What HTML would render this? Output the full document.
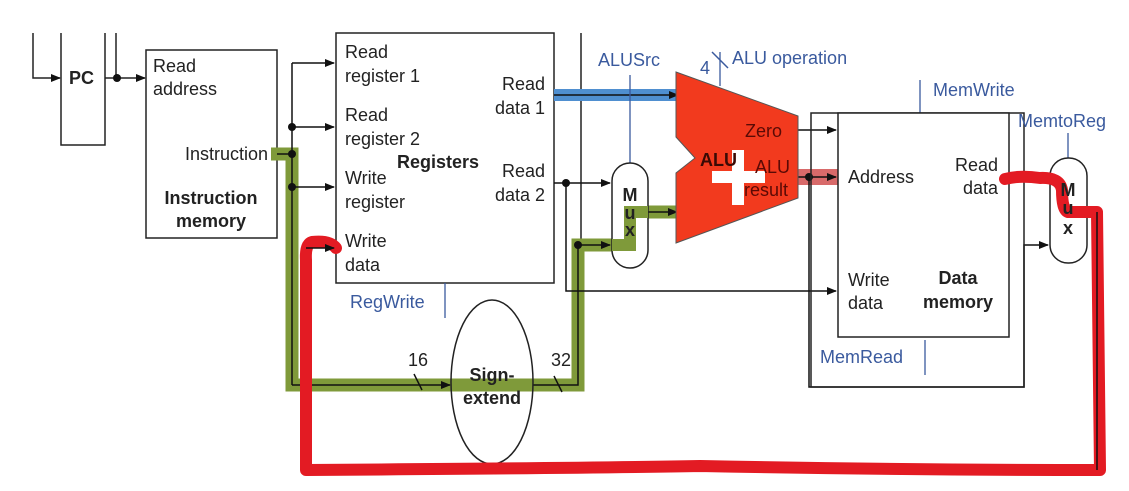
<!DOCTYPE html>
<html><head><meta charset="utf-8"><style>
html,body{margin:0;padding:0;background:#fff;}
svg{display:block;}
text{font-family:"Liberation Sans",sans-serif;font-size:18px;fill:#222;}
.b{font-weight:bold;}
.bl{fill:#3a5a9e;}
</style></head><body>
<svg width="1129" height="491" viewBox="0 0 1129 491" xmlns="http://www.w3.org/2000/svg">
<defs>
<marker id="a" markerWidth="10" markerHeight="8" refX="9" refY="4" orient="auto" markerUnits="userSpaceOnUse">
<path d="M0,0 L10,4 L0,8 Z" fill="#111"/></marker>
</defs>
<g fill="none" stroke="#222" stroke-width="1.5">
<path d="M61,33 V145 H105 V33"/>
<path d="M33,33 V78 H60" marker-end="url(#a)"/>
<path d="M116,33 V78"/>
<path d="M105,78 H145" marker-end="url(#a)"/>
<rect x="146" y="50" width="131" height="188"/>
<rect x="336" y="33" width="218" height="250"/>
<line x1="581" y1="33" x2="581" y2="245"/>
</g>
<g fill="none" stroke="#7f9a3a" stroke-width="13" stroke-linejoin="miter">
<path d="M271,154 H292 V385 H578 V245 H612"/>
<path d="M648,212 H678"/>
</g>
<rect x="554" y="89" width="126" height="12" fill="#4f8fd0"/>
<rect x="795" y="169" width="43" height="16" fill="#d86a6a"/>
<g fill="none" stroke="#111" stroke-width="1.5">
<path d="M292,63 V385"/>
<path d="M292,63 H334" marker-end="url(#a)"/>
<path d="M292,127 H334" marker-end="url(#a)"/>
<path d="M292,187 H334" marker-end="url(#a)"/>
<path d="M277,154 H292"/>
<path d="M292,385 H450" marker-end="url(#a)"/>
<path d="M533,385 H578 V245 H610" marker-end="url(#a)"/>
<path d="M554,95 H678" marker-end="url(#a)"/>
<path d="M554,183 H610" marker-end="url(#a)"/>
<path d="M566,183 V291 H836" marker-end="url(#a)"/>
<path d="M648,212 H677" marker-end="url(#a)"/>
<path d="M798,130 H836" marker-end="url(#a)"/>
<path d="M798,177 H836" marker-end="url(#a)"/>
<path d="M809,177 V387 H1024 V245 H1048" marker-end="url(#a)"/>
<path d="M1000,178 H1048" marker-end="url(#a)"/>
<path d="M1087,212 H1097"/>
<path d="M422,390 L414,374"/><path d="M562,392 L554,376"/>
<path d="M712,52 L728,68" stroke="#3a5a9e"/>
</g>
<g fill="#111">
<circle cx="117" cy="78" r="4"/><circle cx="292" cy="127" r="4"/><circle cx="292" cy="154" r="4"/><circle cx="292" cy="187" r="4"/>
<circle cx="566" cy="183" r="4"/><circle cx="578" cy="245" r="4"/><circle cx="809" cy="177" r="4"/>
</g>
<g stroke="#3a5a9e" stroke-width="1.3">
<line x1="630" y1="75" x2="630" y2="163"/>
<line x1="720" y1="52" x2="720" y2="86"/>
<line x1="920" y1="80" x2="920" y2="113"/>
<line x1="1068" y1="133" x2="1068" y2="158"/>
<line x1="445" y1="283" x2="445" y2="318"/>
<line x1="925" y1="340" x2="925" y2="375"/>
</g>
<rect x="612" y="163" width="36" height="105" rx="18" fill="#fff" stroke="#222" stroke-width="1.5"/>
<rect x="1050" y="158" width="37" height="105" rx="18" fill="#fff" stroke="#222" stroke-width="1.5"/>
<path d="M612,245 H630 V212 H648" fill="none" stroke="#7f9a3a" stroke-width="12"/>
<polygon points="676,72 798,116 798,198 676,243 676,173 695,158 676,137" fill="#f23a1e" stroke="#555" stroke-width="1"/>
<rect x="712" y="171" width="53" height="12" fill="#fff"/>
<rect x="732" y="150" width="12" height="55" fill="#fff"/>
<rect x="811" y="113" width="213" height="274" fill="none" stroke="#222" stroke-width="1.5"/>
<rect x="838" y="113" width="171" height="224" fill="#fff" stroke="#222" stroke-width="1.5"/>
<ellipse cx="492" cy="382" rx="41" ry="82" fill="none" stroke="#222" stroke-width="1.5"/>
<path d="M336,248 Q330,240 312,242 Q305,244 306,260 L306,470 Q600,468 700,466 Q900,470 1100,470 L1097,212 L1068,212 Q1062,210 1062,190 Q1060,177 1040,178 Q1020,175 1005,179" fill="none" stroke="#e31b23" stroke-width="12" stroke-linejoin="round" stroke-linecap="round"/>
<path d="M306,248 H334" fill="none" stroke="#111" stroke-width="1.5" marker-end="url(#a)"/>
<path d="M1097,212 V470" stroke="#111" stroke-width="1.5"/>
<text x="69" y="84" class="b">PC</text>
<text x="153" y="72">Read</text><text x="153" y="95">address</text>
<text x="268" y="160" text-anchor="end">Instruction</text>
<text x="211" y="204" class="b" text-anchor="middle">Instruction</text>
<text x="211" y="227" class="b" text-anchor="middle">memory</text>
<text x="345" y="58">Read</text><text x="345" y="82">register 1</text>
<text x="345" y="121">Read</text><text x="345" y="145">register 2</text>
<text x="345" y="184">Write</text><text x="345" y="208">register</text>
<text x="345" y="247">Write</text><text x="345" y="271">data</text>
<text x="397" y="168" class="b">Registers</text>
<text x="545" y="90" text-anchor="end">Read</text><text x="545" y="114" text-anchor="end">data 1</text>
<text x="545" y="177" text-anchor="end">Read</text><text x="545" y="201" text-anchor="end">data 2</text>
<text x="350" y="308" class="bl">RegWrite</text>
<text x="598" y="66" class="bl">ALUSrc</text>
<text x="700" y="74" class="bl">4</text>
<text x="732" y="64" class="bl">ALU operation</text>
<text x="933" y="96" class="bl">MemWrite</text>
<text x="1018" y="127" class="bl">MemtoReg</text>
<text x="820" y="363" class="bl">MemRead</text>
<g style="font-size:16px">
<text x="630" y="201" text-anchor="middle" class="b">M</text><text x="630" y="219" text-anchor="middle" class="b">u</text><text x="630" y="236" text-anchor="middle" class="b">x</text>
<text x="1068" y="196" text-anchor="middle" class="b">M</text><text x="1068" y="214" text-anchor="middle" class="b">u</text><text x="1068" y="234" text-anchor="middle" class="b">x</text>
</g>
<text x="700" y="166" class="b" style="fill:#3a0a05">ALU</text>
<text x="745" y="137" style="fill:#5a0a05">Zero</text>
<text x="755" y="173" style="fill:#5a0a05">ALU</text>
<text x="744" y="196" style="fill:#5a0a05">result</text>
<text x="848" y="183">Address</text>
<text x="998" y="171" text-anchor="end">Read</text><text x="998" y="194" text-anchor="end">data</text>
<text x="848" y="286">Write</text><text x="848" y="309">data</text>
<text x="958" y="284" class="b" text-anchor="middle">Data</text>
<text x="958" y="308" class="b" text-anchor="middle">memory</text>
<text x="492" y="381" class="b" text-anchor="middle">Sign-</text>
<text x="492" y="404" class="b" text-anchor="middle">extend</text>
<text x="408" y="366">16</text><text x="551" y="366">32</text>
</svg>
</body></html>
